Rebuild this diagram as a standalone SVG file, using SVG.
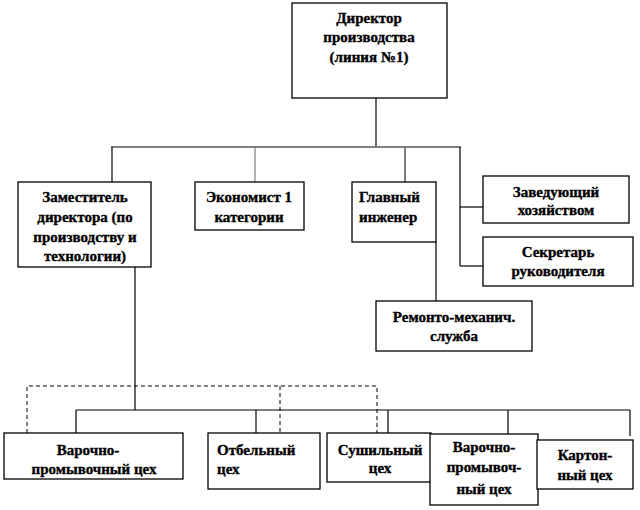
<svg xmlns="http://www.w3.org/2000/svg" width="640" height="510" viewBox="0 0 640 510">
<style>
rect{fill:#fff;stroke:#000;stroke-width:1.3}
text{font-family:"Liberation Serif","Times New Roman",serif;font-weight:bold;font-size:15px;fill:#000;stroke:#000;stroke-width:0.35}
.c{text-anchor:middle}
.ln{stroke:#000;stroke-width:1.2;fill:none}
.g{stroke:#7f7f7f;stroke-width:2;fill:none}
.gt{stroke:#7f7f7f;stroke-width:1.2;fill:none}
.d{stroke:#000;stroke-width:1;stroke-dasharray:4,3;fill:none}
</style>
<rect x="0" y="0" width="640" height="510" style="stroke:none"/>
<g id="connectors">
<line class="ln" x1="376" y1="98" x2="376" y2="147"/>
<line class="g" x1="111" y1="147" x2="461" y2="147"/>
<line class="ln" x1="112" y1="147" x2="112" y2="182"/>
<line class="gt" x1="255" y1="147" x2="255" y2="182"/>
<line class="g" x1="405" y1="147" x2="405" y2="182"/>
<line class="ln" x1="460" y1="147" x2="460" y2="266"/>
<line class="ln" x1="460" y1="207" x2="483" y2="207"/>
<line class="ln" x1="460" y1="266" x2="483" y2="266"/>
<line class="ln" x1="436" y1="242" x2="436" y2="301"/>
<line class="ln" x1="135" y1="267" x2="135" y2="410"/>
<line class="ln" x1="76" y1="410" x2="630" y2="410"/>
<line class="ln" x1="76" y1="410" x2="76" y2="433"/>
<line class="ln" x1="256" y1="410" x2="256" y2="433"/>
<line class="ln" x1="388" y1="410" x2="388" y2="433"/>
<line class="ln" x1="508" y1="410" x2="508" y2="434"/>
<line class="ln" x1="630" y1="410" x2="630" y2="436"/>
<polyline class="d" points="27,433 27,386 377,386 377,433"/>
<line class="d" x1="280" y1="386" x2="280" y2="433"/>
</g>
<g id="director">
<rect x="292" y="3" width="155" height="95"/>
<text class="c" x="369" y="23">Директор</text>
<text class="c" x="369" y="42">производства</text>
<text class="c" x="369" y="62">(линия №1)</text>
</g>
<g id="deputy">
<rect x="18" y="182" width="133" height="85"/>
<text class="c" x="85" y="202">Заместитель</text>
<text class="c" x="85" y="222">директора (по</text>
<text class="c" x="85" y="242">производству и</text>
<text class="c" x="85" y="261">технологии)</text>
</g>
<g id="economist">
<rect x="195" y="182" width="109" height="48"/>
<text class="c" x="249" y="202">Экономист 1</text>
<text class="c" x="249" y="222">категории</text>
</g>
<g id="chief-engineer">
<rect x="352" y="182" width="84" height="60"/>
<text x="359" y="202">Главный</text>
<text x="359" y="222">инженер</text>
</g>
<g id="household">
<rect x="483" y="176" width="146" height="47"/>
<text class="c" x="556" y="197">Заведующий</text>
<text class="c" x="556" y="215">хозяйством</text>
</g>
<g id="secretary">
<rect x="483" y="237" width="150" height="49"/>
<text class="c" x="558" y="257">Секретарь</text>
<text class="c" x="558" y="276">руководителя</text>
</g>
<g id="repair">
<rect x="376" y="301" width="156" height="50"/>
<text class="c" x="454" y="322">Ремонто-механич.</text>
<text class="c" x="454" y="341">служба</text>
</g>
<g id="shop1">
<rect x="4" y="433" width="179" height="46"/>
<text class="c" x="88" y="455">Варочно-</text>
<text class="c" x="94" y="474">промывочный цех</text>
</g>
<g id="shop2">
<rect x="208" y="433" width="112" height="56"/>
<text x="217" y="455">Отбельный</text>
<text x="217" y="474">цех</text>
</g>
<g id="shop3">
<rect x="327" y="433" width="104" height="49"/>
<text class="c" x="380" y="455">Сушильный</text>
<text class="c" x="380" y="473">цех</text>
</g>
<g id="shop4">
<rect x="430" y="434" width="108" height="71"/>
<text class="c" x="484" y="452">Варочно-</text>
<text class="c" x="484" y="472">промывоч-</text>
<text class="c" x="484" y="494">ный цех</text>
</g>
<g id="shop5">
<rect x="537" y="440" width="96" height="49"/>
<text class="c" x="585" y="460">Картон-</text>
<text class="c" x="585" y="480">ный цех</text>
</g>
</svg>
